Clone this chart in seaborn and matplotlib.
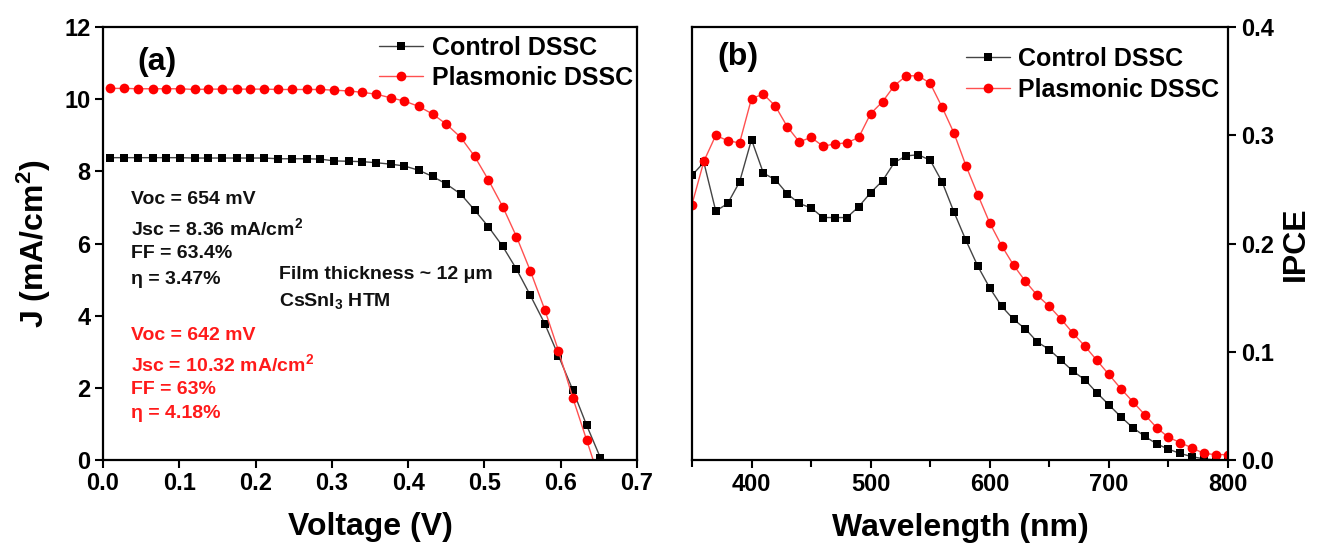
import numpy as np
import pandas as pd
import matplotlib
matplotlib.use("Agg")
import matplotlib.pyplot as plt
from matplotlib.ticker import MultipleLocator
import seaborn as sns

# ---- panel (a): J-V curves ----
voltage = [0.009, 0.028, 0.046, 0.065, 0.083, 0.101, 0.120, 0.138, 0.156, 0.175,
           0.193, 0.211, 0.230, 0.248, 0.267, 0.285, 0.303, 0.322, 0.340, 0.358,
           0.377, 0.395, 0.414, 0.432, 0.450, 0.469, 0.487, 0.505, 0.524, 0.542,
           0.560, 0.579, 0.597, 0.616, 0.634, 0.652]
j_control = [8.38, 8.38, 8.38, 8.38, 8.38, 8.38, 8.37, 8.37, 8.37, 8.37,
             8.37, 8.37, 8.35, 8.35, 8.35, 8.34, 8.29, 8.28, 8.27, 8.24,
             8.20, 8.15, 8.03, 7.86, 7.65, 7.37, 6.93, 6.47, 5.92, 5.29,
             4.57, 3.78, 2.89, 1.93, 0.96, 0.06]
j_plasmonic = [10.30, 10.30, 10.29, 10.29, 10.29, 10.29, 10.27, 10.28, 10.28, 10.28,
               10.28, 10.28, 10.27, 10.27, 10.27, 10.27, 10.25, 10.23, 10.19, 10.14,
               10.04, 9.95, 9.80, 9.59, 9.31, 8.94, 8.42, 7.77, 7.02, 6.19,
               5.25, 4.17, 3.03, 1.71, 0.55, -0.62]

# ---- panel (b): IPCE spectra ----
wavelength = [350, 360, 370, 380, 390, 400, 410, 420, 430, 440,
              450, 460, 470, 480, 490, 500, 510, 520, 530, 540,
              550, 560, 570, 580, 590, 600, 610, 620, 630, 640,
              650, 660, 670, 680, 690, 700, 710, 720, 730, 740,
              750, 760, 770, 780, 790, 800]
ipce_control = [0.263, 0.275, 0.230, 0.237, 0.257, 0.296, 0.265, 0.259, 0.246, 0.237,
                0.233, 0.224, 0.224, 0.224, 0.234, 0.247, 0.258, 0.275, 0.281, 0.282,
                0.277, 0.257, 0.229, 0.203, 0.179, 0.159, 0.142, 0.130, 0.121, 0.109,
                0.102, 0.092, 0.082, 0.074, 0.062, 0.051, 0.040, 0.030, 0.022, 0.015,
                0.010, 0.006, 0.003, 0.001, 0.000, 0.000]
ipce_plasmonic = [0.236, 0.276, 0.300, 0.295, 0.293, 0.334, 0.338, 0.327, 0.308, 0.294,
                  0.298, 0.290, 0.292, 0.293, 0.298, 0.320, 0.331, 0.346, 0.355, 0.355,
                  0.348, 0.326, 0.302, 0.272, 0.245, 0.219, 0.198, 0.180, 0.165, 0.152,
                  0.142, 0.130, 0.117, 0.105, 0.092, 0.079, 0.066, 0.054, 0.042, 0.030,
                  0.021, 0.016, 0.011, 0.006, 0.005, 0.005]

control_text = ["Voc = 654 mV", "Jsc = 8.36 mA/cm$^2$", "FF = 63.4%", "η = 3.47%"]
plasmonic_text = ["Voc = 642 mV", "Jsc = 10.32 mA/cm$^2$", "FF = 63%", "η = 4.18%"]
control_text_y = [7.28, 6.47, 5.77, 5.06]
plasmonic_text_y = [3.51, 2.72, 2.01, 1.34]

sns.set_theme(style="ticks")
plt.rcParams['font.family'] = ['Liberation Sans', 'DejaVu Sans']
plt.rcParams['font.weight'] = 'bold'
plt.rcParams['mathtext.fontset'] = 'custom'
plt.rcParams['mathtext.rm'] = 'Liberation Sans:bold'
plt.rcParams['mathtext.it'] = 'Liberation Sans:bold'
plt.rcParams['mathtext.bf'] = 'Liberation Sans:bold'
plt.rcParams['mathtext.default'] = 'regular'
plt.rcParams['axes.linewidth'] = 1.6
plt.rcParams['text.color'] = 'black'
plt.rcParams['axes.labelcolor'] = 'black'
plt.rcParams['xtick.color'] = 'black'
plt.rcParams['ytick.color'] = 'black'

df_a = pd.DataFrame({"V": voltage, "Jc": j_control, "Jp": j_plasmonic})
df_b = pd.DataFrame({"wl": wavelength, "Ic": ipce_control, "Ip": ipce_plasmonic})

fig = plt.figure(figsize=(13.17, 5.48), dpi=100)
ax1 = fig.add_axes([0.0782, 0.1606, 0.4055, 0.790])
ax2 = fig.add_axes([0.5254, 0.1606, 0.407, 0.790])

black_kw = dict(color="#444444", marker="s", markersize=6, markerfacecolor="black",
                markeredgecolor="black", markeredgewidth=0, linewidth=1.0)
red_kw = dict(color="#ff5050", marker="o", markersize=7, markerfacecolor="#ff0000",
              markeredgecolor="#ff0000", markeredgewidth=0, linewidth=1.0)

sns.lineplot(data=df_a, x="V", y="Jc", ax=ax1, label="Control DSSC", **black_kw)
sns.lineplot(data=df_a, x="V", y="Jp", ax=ax1, label="Plasmonic DSSC", **red_kw)

ax1.set_xlim(0, 0.7)
ax1.set_ylim(0, 12)
ax1.xaxis.set_major_locator(MultipleLocator(0.1))
ax1.yaxis.set_major_locator(MultipleLocator(2))
ax1.set_xticklabels([f"{v:.1f}" for v in ax1.get_xticks()])
ax1.tick_params(direction="out", length=5.5, width=1.5, labelsize=17, top=False, right=False)
ax1.set_xlabel("Voltage (V)", fontsize=23, fontweight="bold", labelpad=12)
ax1.set_ylabel("J (mA/cm$^2$)", fontsize=23, fontweight="bold", labelpad=8)
ax1.legend(loc="upper left", bbox_to_anchor=(0.517, 0.98), frameon=False, fontsize=18,
           handlelength=1.75, handletextpad=0.35, labelspacing=0.25, borderpad=0, borderaxespad=0)
ax1.text(0.065, 0.92, "(a)", transform=ax1.transAxes, fontsize=23, fontweight="bold", va="center")

for txt, yy in zip(control_text, control_text_y):
    ax1.text(0.037, yy, txt, fontsize=14, fontweight="bold", color="#111111", va="center_baseline")
for txt, yy in zip(plasmonic_text, plasmonic_text_y):
    ax1.text(0.037, yy, txt, fontsize=14, fontweight="bold", color="#ff1a1a", va="center_baseline")
ax1.text(0.231, 5.19, "Film thickness ~ 12 μm", fontsize=14, fontweight="bold", color="#111111",
         va="center_baseline")
ax1.text(0.231, 4.48, "CsSnI$_3$ HTM", fontsize=14, fontweight="bold", color="#111111",
         va="center_baseline")

sns.lineplot(data=df_b, x="wl", y="Ic", ax=ax2, label="Control DSSC", **black_kw)
sns.lineplot(data=df_b, x="wl", y="Ip", ax=ax2, label="Plasmonic DSSC", **red_kw)

ax2.set_xlim(350, 800)
ax2.set_ylim(0, 0.4)
ax2.xaxis.set_major_locator(MultipleLocator(100))
ax2.xaxis.set_minor_locator(MultipleLocator(50))
ax2.yaxis.set_major_locator(MultipleLocator(0.1))
ax2.yaxis.tick_right()
ax2.yaxis.set_label_position("right")
ax2.set_yticklabels([f"{v:.1f}" for v in ax2.get_yticks()])
ax2.tick_params(which="major", direction="out", length=6, width=1.5, labelsize=17)
ax2.tick_params(which="minor", direction="out", length=5, width=1.5)
ax2.tick_params(axis="y", left=False, right=True)
ax2.tick_params(axis="x", top=False)
ax2.set_xlabel("Wavelength (nm)", fontsize=23, fontweight="bold", labelpad=12)
ax2.set_ylabel("IPCE", fontsize=23, fontweight="bold", labelpad=5)
ax2.legend(loc="upper left", bbox_to_anchor=(0.511, 0.955), frameon=False, fontsize=18,
           handlelength=1.75, handletextpad=0.35, labelspacing=0.3, borderpad=0, borderaxespad=0)
ax2.text(0.047, 0.93, "(b)", transform=ax2.transAxes, fontsize=23, fontweight="bold", va="center")

for ax in (ax1, ax2):
    for sp in ax.spines.values():
        sp.set_visible(True)
        sp.set_color("black")
        sp.set_linewidth(1.6)

fig.savefig("out.png", dpi=100)
